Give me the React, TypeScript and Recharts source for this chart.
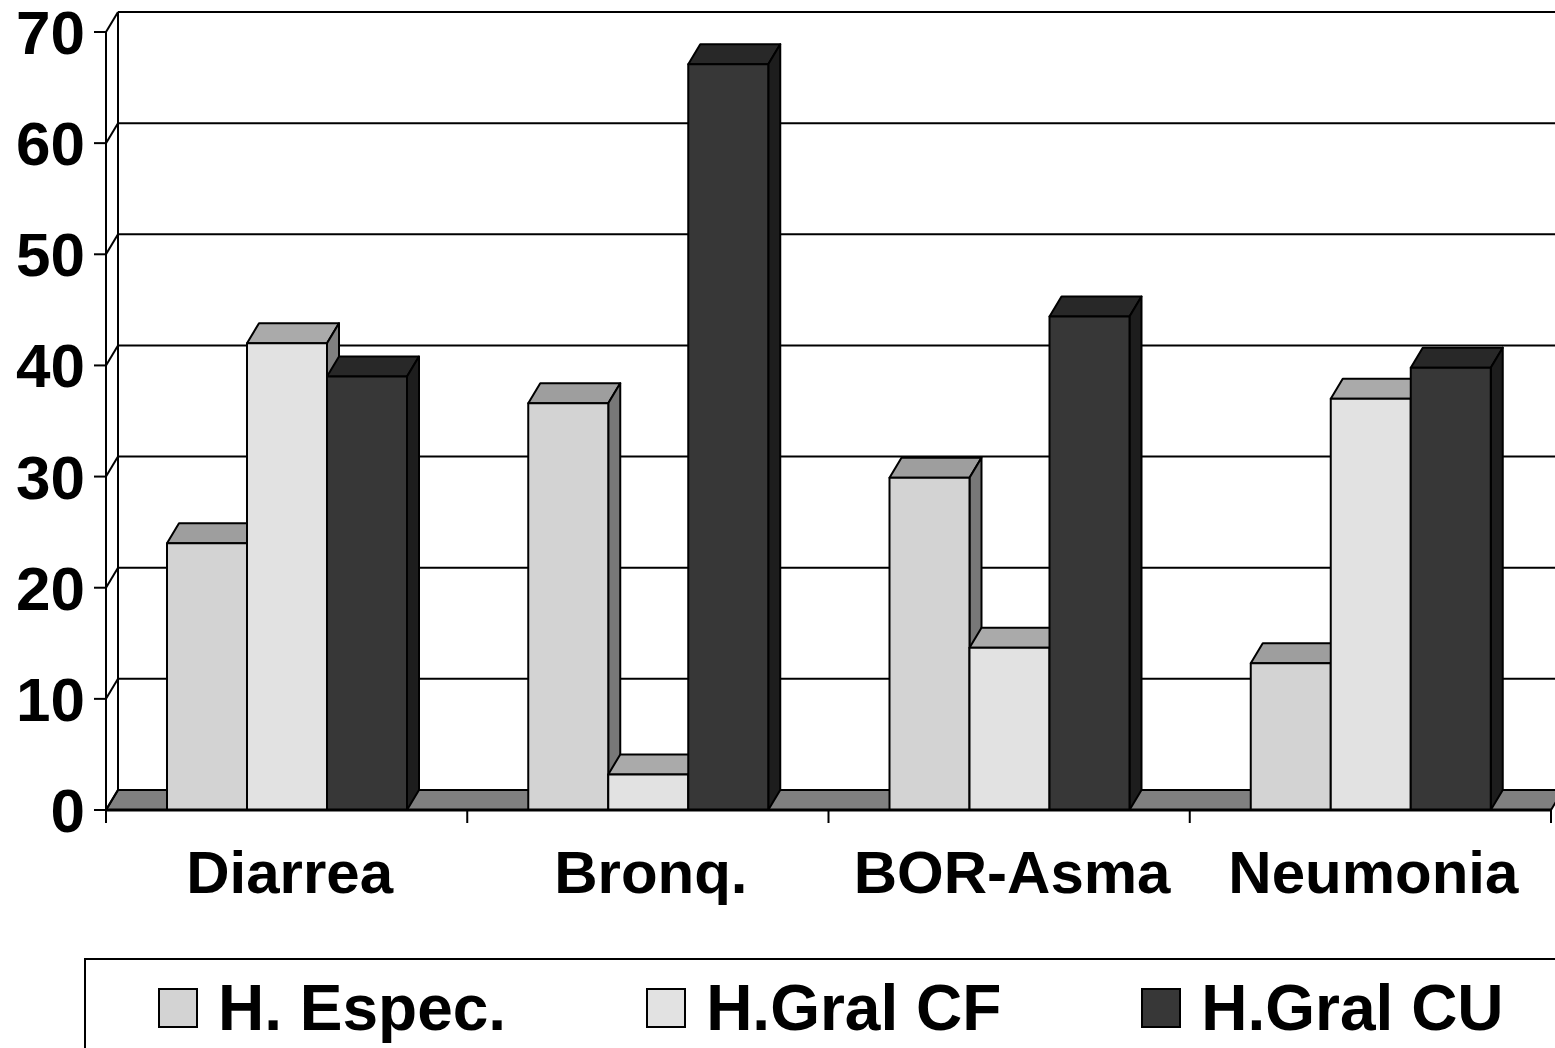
import React from "react";
import { BarChart, Bar, XAxis, YAxis, CartesianGrid, Legend } from "recharts";

const categories = ["Diarrea", "Bronq.", "BOR-Asma", "Neumonia"];
const hEspec = [24, 36.6, 29.9, 13.2];
const hGralCF = [42, 3.2, 14.6, 37];
const hGralCU = [39, 67.1, 44.4, 39.8];
const yTicks = [0, 10, 20, 30, 40, 50, 60, 70];
const seriesNames = ["H. Espec.", "H.Gral CF", "H.Gral CU"];

const data = categories.map((name, i) => ({
  name,
  espec: hEspec[i],
  cf: hGralCF[i],
  cu: hGralCU[i],
}));

// layout
const W = 1555;
const H = 1048;
const PLOT_TOP = 32;
const PLOT_LEFT = 106;
const PLOT_RIGHT = 1551;
const PLOT_BOTTOM = 810;
const BAND = (PLOT_RIGHT - PLOT_LEFT) / categories.length;
const DX = 12; // 3d depth
const DY = 20;
const FONT = "'Liberation Sans', Arial, sans-serif";

const colors = {
  espec: { front: "#D3D3D3", top: "#9E9E9E", side: "#787878" },
  cf: { front: "#E2E2E2", top: "#AAAAAA", side: "#808080" },
  cu: { front: "#373737", top: "#282828", side: "#1D1D1D" },
};

type Shade = { front: string; top: string; side: string };

const Box3D = (props: any & { shade: Shade }) => {
  const { x, y, width, height, shade } = props;
  if (width == null || height == null) return null;
  const r = x + width;
  const b = y + height;
  return (
    <g stroke="#000" strokeWidth={2} strokeLinejoin="round">
      <polygon
        points={`${x},${y} ${x + DX},${y - DY} ${r + DX},${y - DY} ${r},${y}`}
        fill={shade.top}
      />
      <polygon
        points={`${r},${y} ${r + DX},${y - DY} ${r + DX},${b - DY} ${r},${b}`}
        fill={shade.side}
      />
      <rect x={x} y={y} width={width} height={height} fill={shade.front} />
    </g>
  );
};

// back wall gridlines, floor and the little diagonals from the front axis
const renderGridLine = (p: any) => {
  const { x1, x2, y1 } = p;
  const isFloor = Math.abs(y1 - PLOT_BOTTOM) < 1;
  const isTop = Math.abs(y1 - PLOT_TOP) < 1;
  return (
    <g key={`grid-${p.index}-${y1}`}>
      {isFloor ? (
        <polygon
          points={`${x1},${y1} ${x2},${y1} ${x2 + DX},${y1 - DY} ${x1 + DX},${y1 - DY}`}
          fill="#808080"
          stroke="#000"
          strokeWidth={2}
        />
      ) : (
        <line x1={x1 + DX} y1={y1 - DY} x2={x2 + DX} y2={y1 - DY} stroke="#000" strokeWidth={2} />
      )}
      <line x1={x1} y1={y1} x2={x1 + DX} y2={y1 - DY} stroke="#000" strokeWidth={2} />
      {isTop && (
        <line
          x1={x1 + DX}
          y1={y1 - DY}
          x2={x1 + DX}
          y2={PLOT_BOTTOM - DY}
          stroke="#000"
          strokeWidth={2}
        />
      )}
    </g>
  );
};

const YTick = (p: any) => {
  const { x, y, payload } = p;
  return (
    <text
      x={x - 9}
      y={y + 22}
      textAnchor="end"
      fontSize={62}
      fontWeight="bold"
      fontFamily={FONT}
      fill="#000"
    >
      {payload.value}
    </text>
  );
};

const XTick = (p: any) => {
  const { x, y, payload, index } = p;
  return (
    <g>
      <line x1={x - BAND / 2} y1={y} x2={x - BAND / 2} y2={y + 13} stroke="#000" strokeWidth={2} />
      {index === categories.length - 1 && (
        <line x1={x + BAND / 2} y1={y} x2={x + BAND / 2} y2={y + 13} stroke="#000" strokeWidth={2} />
      )}
      <text
        x={x + 3}
        y={y + 83}
        textAnchor="middle"
        fontSize={60}
        fontWeight="bold"
        fontFamily={FONT}
        fill="#000"
      >
        {payload.value}
      </text>
    </g>
  );
};

const renderLegend = (props: any) => {
  const payload = props.payload || [];
  return (
    <div
      style={{
        width: W - 84,
        height: H - 958,
        boxSizing: "border-box",
        borderTop: "2px solid #000",
        borderLeft: "2px solid #000",
        background: "#fff",
        display: "flex",
        alignItems: "flex-start",
        paddingLeft: 72,
        paddingTop: 16,
        gap: 140,
      }}
    >
      {payload.map((entry: any, i: number) => (
        <div key={i} style={{ display: "flex", alignItems: "center", height: 64 }}>
          <span
            style={{
              display: "inline-block",
              width: 40,
              height: 40,
              boxSizing: "border-box",
              background: entry.color,
              border: "2px solid #000",
              marginRight: 20,
            }}
          />
          <span
            style={{
              fontFamily: FONT,
              fontWeight: "bold",
              fontSize: 64,
              lineHeight: 1,
              color: "#000",
              whiteSpace: "nowrap",
            }}
          >
            {entry.value}
          </span>
        </div>
      ))}
    </div>
  );
};

export default function App() {
  return (
    <div
      style={{
        position: "absolute",
        left: 0,
        top: 0,
        width: W,
        height: H,
        overflow: "hidden",
        background: "#fff",
      }}
    >
      <BarChart
        width={W}
        height={H}
        data={data}
        margin={{ top: PLOT_TOP, right: W - PLOT_RIGHT, left: 0, bottom: H - PLOT_BOTTOM - 100 }}
        barCategoryGap={61}
        barGap={0}
      >
        <CartesianGrid vertical={false} horizontal={renderGridLine} />
        <XAxis
          dataKey="name"
          height={100}
          interval={0}
          tickLine={false}
          tickSize={0}
          tickMargin={0}
          axisLine={{ stroke: "#000", strokeWidth: 3 }}
          tick={<XTick />}
        />
        <YAxis
          width={PLOT_LEFT}
          domain={[0, 70]}
          ticks={yTicks}
          interval={0}
          tickSize={12}
          tickMargin={0}
          axisLine={{ stroke: "#000", strokeWidth: 2 }}
          tickLine={{ stroke: "#000", strokeWidth: 2 }}
          tick={<YTick />}
        />
        <Legend
          content={renderLegend}
          wrapperStyle={{ position: "absolute", left: 84, top: 958, width: 0, height: 0 }}
        />
        <Bar
          dataKey="espec"
          name={seriesNames[0]}
          fill={colors.espec.front}
          isAnimationActive={false}
          shape={(p: any) => <Box3D {...p} shade={colors.espec} />}
        />
        <Bar
          dataKey="cf"
          name={seriesNames[1]}
          fill={colors.cf.front}
          isAnimationActive={false}
          shape={(p: any) => <Box3D {...p} shade={colors.cf} />}
        />
        <Bar
          dataKey="cu"
          name={seriesNames[2]}
          fill={colors.cu.front}
          isAnimationActive={false}
          shape={(p: any) => <Box3D {...p} shade={colors.cu} />}
        />
      </BarChart>
    </div>
  );
}
